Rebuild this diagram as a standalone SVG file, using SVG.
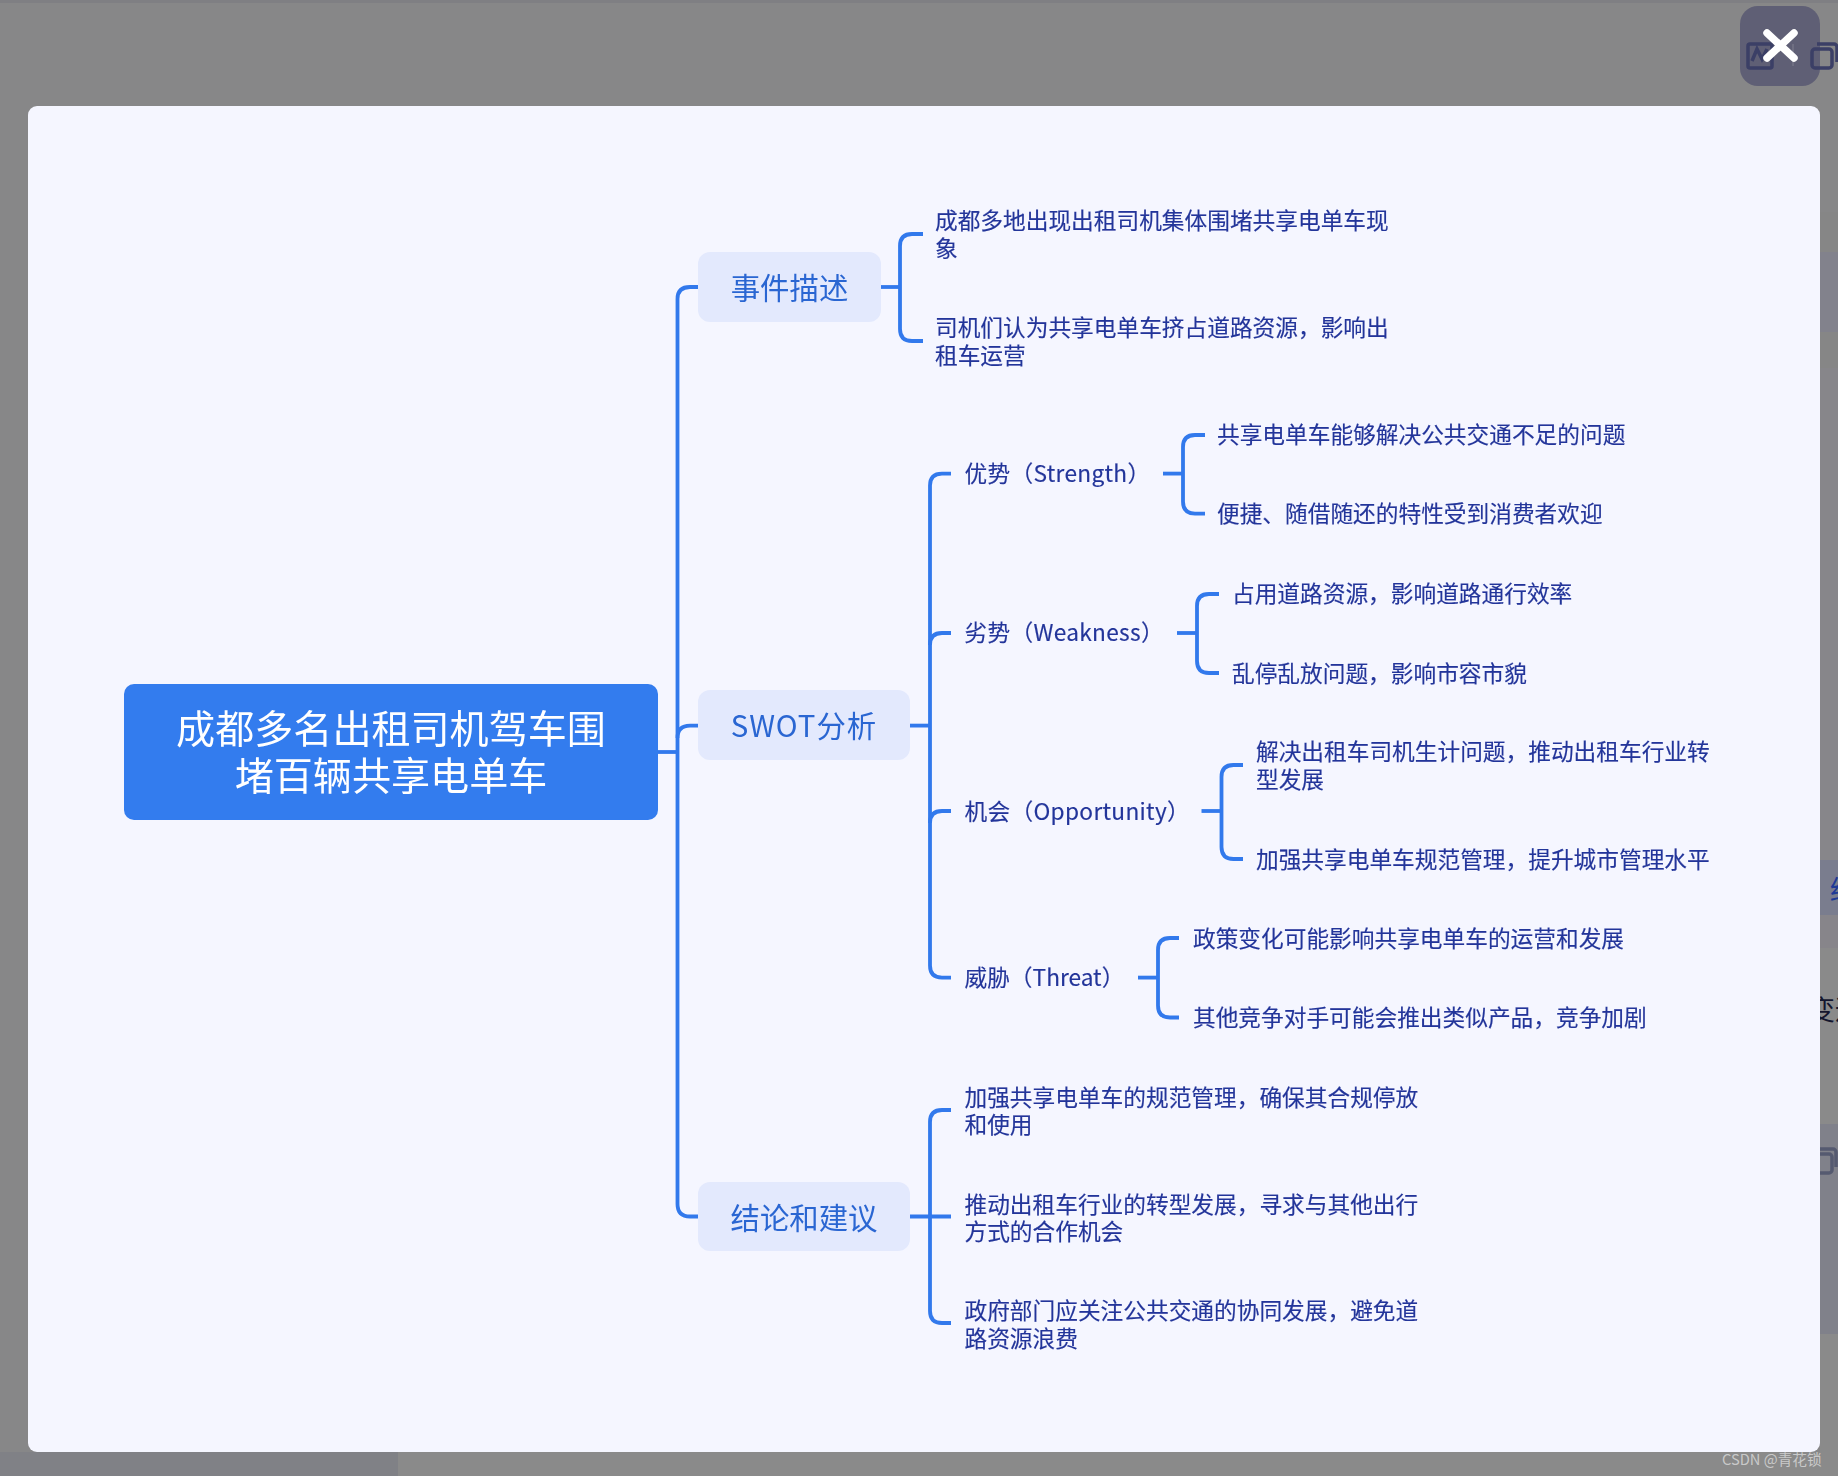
<svg xmlns="http://www.w3.org/2000/svg" width="1838" height="1476" viewBox="0 0 1838 1476">
<defs>
<filter id="soft" x="-5%" y="-20%" width="110%" height="140%"><feGaussianBlur stdDeviation="0.6"/></filter>
<filter id="soft2" x="-5%" y="-5%" width="110%" height="110%"><feGaussianBlur stdDeviation="0.4"/></filter>
</defs>
<style>
text{font-family:"Noto Sans CJK SC","Noto Sans",sans-serif;dominant-baseline:central}
.t{filter:url(#soft);transform:translateY(-1.3px)}
.leaf{font-size:22.7px;fill:#24359a;stroke:#24359a;stroke-width:.15}
.lat{letter-spacing:.3px}
.branch{font-size:29.4px;fill:#2a66d2;text-anchor:middle}
.root{font-size:39.1px;fill:#fff;text-anchor:middle}
.bbox{fill:#e3e9fd}
.ln{fill:none;stroke:#3279ec;stroke-width:3.8;stroke-linecap:butt}
.ic{fill:none;stroke:#3b3f66;stroke-width:3.5}
</style>
<g id="backdrop">
<rect width="1838" height="1476" fill="#878788"/>
<rect y="0" width="1838" height="3" fill="#7f7f83"/>
<rect x="0" y="1452" width="398" height="24" fill="#808186"/>
<rect x="398" y="1452" width="1440" height="24" fill="#8a8a8a"/>
<rect x="1820" y="212" width="18" height="40" fill="#868686"/>
<rect x="1820" y="252" width="18" height="80" fill="#82828c"/>
<rect x="1820" y="332" width="18" height="36" fill="#868686"/>
<rect x="1820" y="368" width="18" height="492" fill="#87868a"/>
<rect x="1820" y="860" width="18" height="55" fill="#7a7d8e"/>
<rect x="1820" y="915" width="18" height="33" fill="#87858a"/>
<rect x="1820" y="948" width="18" height="176" fill="#8a8a8a"/>
<rect x="1820" y="1124" width="18" height="210" fill="#80818a"/>
<rect x="1820" y="1334" width="18" height="142" fill="#8a8a8a"/>
<text x="1830" y="888" font-size="27" fill="#1f3a96">结</text>
<text x="1808" y="1008" font-size="27" fill="#14162e">变通</text>
<rect class="ic" x="1810" y="1154" width="22" height="19" rx="3" style="stroke:#555a70"/>
<path class="ic" d="M1816 1149h17a3 3 0 0 1 3 3v15" style="stroke:#555a70"/>
</g>
<rect id="card" x="28" y="106" width="1792" height="1346" rx="9" fill="#f5f6ff"/>
<g id="close-button">
<rect x="1740" y="6" width="80" height="80" rx="18" fill="#5f5f75"/>
<g>
<rect class="ic" x="1748" y="44" width="24" height="24" rx="2"/>
<path class="ic" d="M1752 61l5-12 5 10 5-10"/>
<rect x="1792" y="44" width="2" height="22" fill="#6f6f82"/>
<rect class="ic" x="1812" y="49" width="20" height="19" rx="3"/>
<path class="ic" d="M1817 44h17a3 3 0 0 1 3 3v15"/>
</g>
<path d="M1767 33L1794 58M1794 33L1767 58" stroke="#fff" stroke-width="7.5" stroke-linecap="round" fill="none"/>
</g>
<g id="connectors" filter="url(#soft2)">
<path class="ln" d="M658 752H677.5"/>
<path class="ln" d="M698 287H690Q677.5 287 677.5 299V1204Q677.5 1216.5 690 1216.5H698"/>
<path class="ln" d="M677.5 738Q677.5 725.6 690 725.6H698"/>
<path class="ln" d="M881 287H900"/>
<path class="ln" d="M923 234H912Q900 234 900 246V329Q900 341 912 341H923"/>
<path class="ln" d="M910 725.6H930"/>
<path class="ln" d="M951 473.6H942Q930 473.6 930 485.6V965.6Q930 977.6 942 977.6H951"/>
<path class="ln" d="M930 645Q930 633 942 633H951"/>
<path class="ln" d="M930 823Q930 811 942 811H951"/>
<path class="ln" d="M1163 473.6H1183"/>
<path class="ln" d="M1205 435H1195Q1183 435 1183 447V501.6Q1183 513.6 1195 513.6H1205"/>
<path class="ln" d="M1177 633H1197"/>
<path class="ln" d="M1219 594H1209Q1197 594 1197 606V661Q1197 673 1209 673H1219"/>
<path class="ln" d="M1201.5 811H1221.5"/>
<path class="ln" d="M1243 765H1233.5Q1221.5 765 1221.5 777V847Q1221.5 859 1233.5 859H1243"/>
<path class="ln" d="M1138 977.6H1158"/>
<path class="ln" d="M1179 938H1170Q1158 938 1158 950V1005.5Q1158 1017.5 1170 1017.5H1179"/>
<path class="ln" d="M910 1216.5H951"/>
<path class="ln" d="M951 1110H942Q930 1110 930 1122V1311Q930 1323 942 1323H951"/>
</g>
<g id="root"><rect x="124" y="684" width="534" height="136" rx="10" fill="#337cee"/>
<text class="root t" x="391" y="727">成都多名出租司机驾车围</text><text class="root t" x="391" y="774.5">堵百辆共享电单车</text></g>
<g id="branch-event"><rect class="bbox" x="698" y="252" width="183" height="70" rx="12"/><text class="branch t" x="789.5" y="287">事件描述</text></g>
<g id="branch-swot"><rect class="bbox" x="698" y="690" width="212" height="70" rx="12"/><text class="branch t" x="804" y="725" style="letter-spacing:1px">SWOT分析</text></g>
<g id="branch-conclusion"><rect class="bbox" x="698" y="1182" width="212" height="69" rx="12"/><text class="branch t" x="804" y="1217">结论和建议</text></g>
<g id="event-1"><text class="leaf t" x="935" y="221">成都多地出现出租司机集体围堵共享电单车现</text><text class="leaf t" x="935" y="249">象</text></g>
<g id="event-2"><text class="leaf t" x="935" y="328">司机们认为共享电单车挤占道路资源，影响出</text><text class="leaf t" x="935" y="356">租车运营</text></g>
<g id="strength"><text class="leaf t lat" x="964.5" y="473.6">优势（Strength）</text></g>
<g id="strength-1"><text class="leaf t" x="1217" y="435">共享电单车能够解决公共交通不足的问题</text></g>
<g id="strength-2"><text class="leaf t" x="1217" y="514">便捷、随借随还的特性受到消费者欢迎</text></g>
<g id="weakness"><text class="leaf t lat" x="964.5" y="633">劣势（Weakness）</text></g>
<g id="weakness-1"><text class="leaf t" x="1232" y="594">占用道路资源，影响道路通行效率</text></g>
<g id="weakness-2"><text class="leaf t" x="1232" y="674">乱停乱放问题，影响市容市貌</text></g>
<g id="opportunity"><text class="leaf t lat" x="964.5" y="812">机会（Opportunity）</text></g>
<g id="opportunity-1"><text class="leaf t" x="1256" y="752">解决出租车司机生计问题，推动出租车行业转</text><text class="leaf t" x="1256" y="780">型发展</text></g>
<g id="opportunity-2"><text class="leaf t" x="1256" y="860">加强共享电单车规范管理，提升城市管理水平</text></g>
<g id="threat"><text class="leaf t" x="964.5" y="977.6">威胁（Threat）</text></g>
<g id="threat-1"><text class="leaf t" x="1193" y="939">政策变化可能影响共享电单车的运营和发展</text></g>
<g id="threat-2"><text class="leaf t" x="1193" y="1018">其他竞争对手可能会推出类似产品，竞争加剧</text></g>
<g id="conclusion-1"><text class="leaf t" x="964.5" y="1098">加强共享电单车的规范管理，确保其合规停放</text><text class="leaf t" x="964.5" y="1125">和使用</text></g>
<g id="conclusion-2"><text class="leaf t" x="964.5" y="1205">推动出租车行业的转型发展，寻求与其他出行</text><text class="leaf t" x="964.5" y="1232">方式的合作机会</text></g>
<g id="conclusion-3"><text class="leaf t" x="964.5" y="1311">政府部门应关注公共交通的协同发展，避免道</text><text class="leaf t" x="964.5" y="1339">路资源浪费</text></g>
<text id="watermark" x="1722" y="1458" font-size="14.7" fill="#c9c9c9">CSDN @青花锁</text>
</svg>
